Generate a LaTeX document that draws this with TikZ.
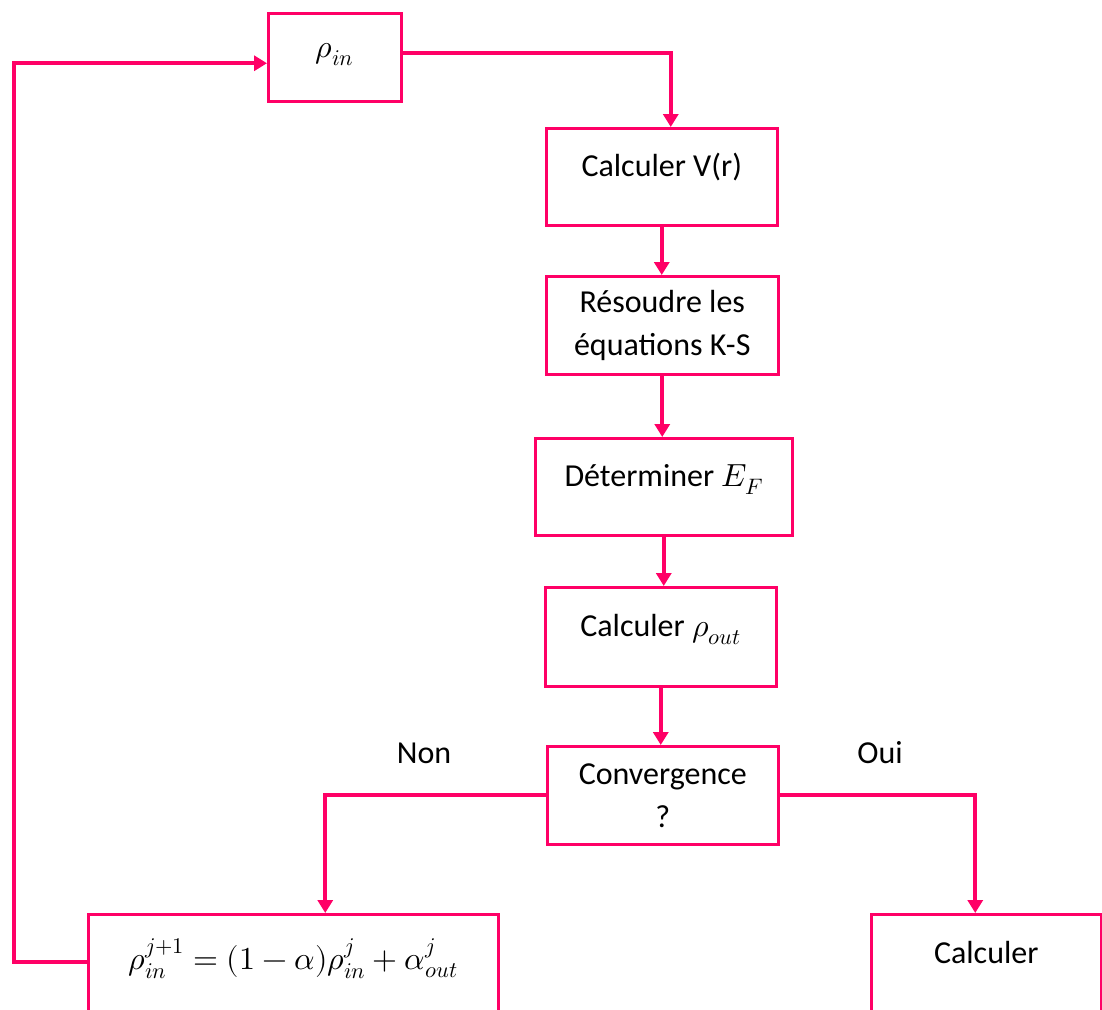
\documentclass[tikz,border=0pt]{standalone}
\usepackage{fontspec}
\usepackage{unicode-math}
\setmainfont{Carlito}
\setmathfont{Latin Modern Math}
\usetikzlibrary{arrows.meta}
\definecolor{pk}{RGB}{255,0,102}
\begin{document}
\begin{tikzpicture}[x=1pt,y=-1pt,
  box/.style={draw=pk, line width=2.5pt, rectangle, anchor=north west, inner sep=0pt,
              font=\fontsize{32}{43}\selectfont, align=center},
  one/.style={text height=12pt, text depth=12pt},
  conn/.style={draw=pk, line width=4pt, -{Triangle[length=13pt,width=15pt]}},
  lbl/.style={font=\fontsize{32}{43}\selectfont, anchor=base, inner sep=0pt}]
\useasboundingbox (0,0) rectangle (1102,1009);
\begin{scope}
\clip (0,0) rectangle (1102,1009);
\node[box,one,minimum width=133pt,minimum height=88pt] (rin) at (267,12) {$\rho_{in}$};
\node[box,one,minimum width=231pt,minimum height=97pt] (vr) at (545,127) {Calculer V(r)};
\node[box,minimum width=232pt,minimum height=98pt] (ks) at (545,275) {Résoudre les\\équations K-S};
\node[box,one,minimum width=257pt,minimum height=97pt] (ef) at (534,437) {Déterminer $E_F$};
\node[box,one,minimum width=231pt,minimum height=99pt] (ro) at (544,586) {Calculer $\rho_{out}$};
\node[box,minimum width=231pt,minimum height=98pt] (cv) at (546,745) {Convergence\\?};
\node[box,one,minimum width=410pt,minimum height=110pt] (mix) at (87,913)
  {$\rho_{in}^{j+1}=(1-\alpha)\rho_{in}^{j}+\alpha_{out}^{j}$};
\node[box,minimum width=230pt,minimum height=104pt,text height=9pt,text depth=15pt] (calc) at (870,913) {Calculer};

\node[lbl] (non) at (424,763) {Non};
\node[lbl] (oui) at (880,763) {Oui};

\coordinate (lc) at (14,500);

\draw[conn] ([yshift=4pt]rin.east) -| ([xshift=9pt]vr.north);
\draw[conn] (vr.south) -- (vr.south |- ks.north);
\draw[conn] (ks.south) -- (ks.south |- ef.north);
\draw[conn] (ef.south) -- (ef.south |- ro.north);
\draw[conn] (ro.south) -- (ro.south |- cv.north);
\draw[conn] (cv.west) -| ([xshift=32pt]mix.north);
\draw[conn] (cv.east) -| ([xshift=-11pt]calc.north);
\draw[conn] ([yshift=7pt]mix.west) -| (lc) |- ([yshift=-6pt]rin.west);
\end{scope}
\end{tikzpicture}
\end{document}
